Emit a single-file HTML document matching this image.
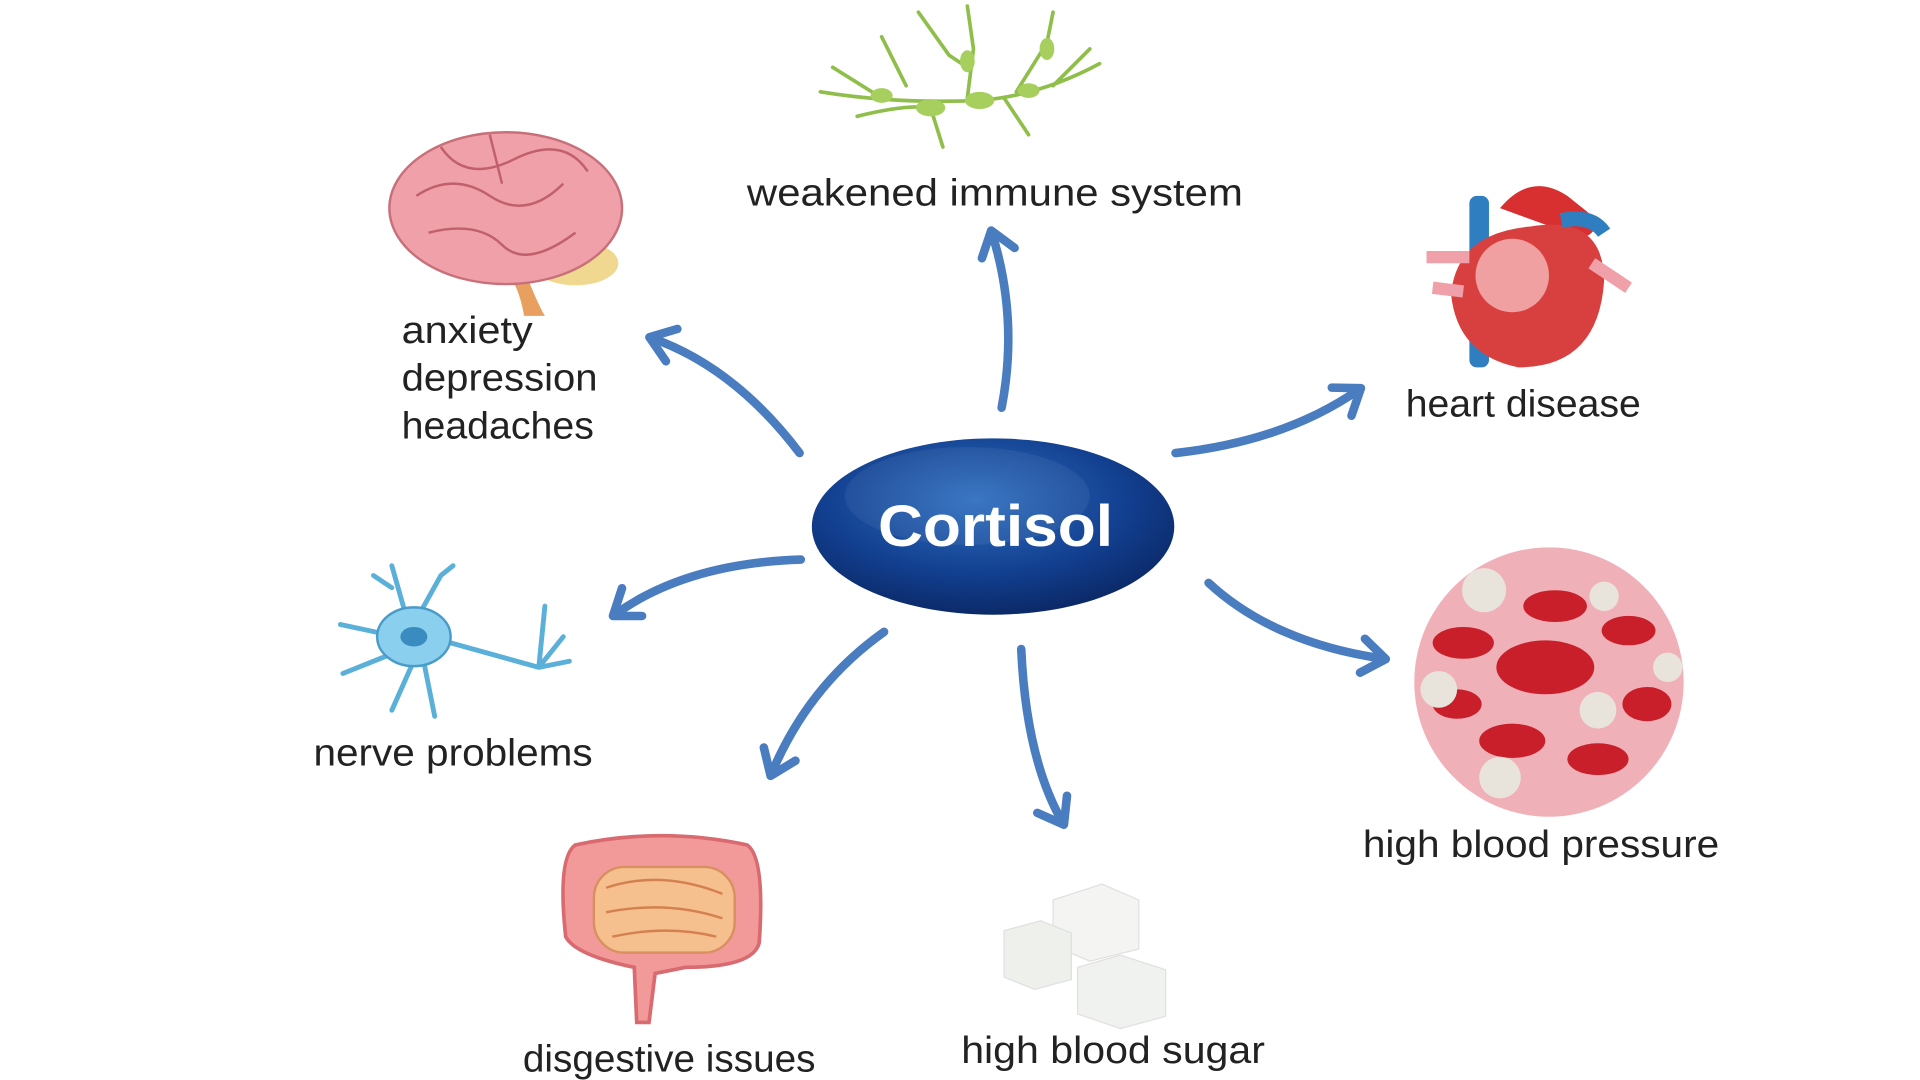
<!DOCTYPE html>
<html><head><meta charset="utf-8"><style>
html,body{margin:0;padding:0;background:#fff;width:1920px;height:1080px;overflow:hidden}
svg{display:block}
text{font-family:"Liberation Sans",sans-serif;fill:#222;font-size:31px}
</style></head><body>
<svg width="1920" height="1080" viewBox="0 0 1568 882" preserveAspectRatio="none" xmlns="http://www.w3.org/2000/svg">
<defs>
<radialGradient id="cg" cx="0.45" cy="0.35" r="0.7">
<stop offset="0" stop-color="#2f6fc0"/><stop offset="0.6" stop-color="#123f8f"/><stop offset="1" stop-color="#0a2560"/>
</radialGradient>
<marker id="ah" viewBox="0 0 20 20" refX="12" refY="10" markerWidth="5" markerHeight="5" orient="auto">
<path d="M2,2 L13,10 L2,18" fill="none" stroke="#4a7cc0" stroke-width="4" stroke-linecap="round" stroke-linejoin="round"/>
</marker>
</defs>
<rect width="1568" height="882" fill="#fff"/>

<g fill="none" stroke="#4a7cc0" stroke-width="7" stroke-linecap="round" marker-end="url(#ah)">
<path d="M818,333 Q832,260 810,190"/>
<path d="M653,370 Q600,300 532,276"/>
<path d="M960,370 Q1050,360 1110,318"/>
<path d="M654,457 Q560,460 502,502"/>
<path d="M722,516 Q660,560 630,632"/>
<path d="M834,530 Q838,620 868,672"/>
<path d="M987,476 Q1040,525 1130,538"/>
</g>

<ellipse cx="811" cy="430" rx="148" ry="72" fill="url(#cg)"/>
<ellipse cx="790" cy="405" rx="100" ry="40" fill="#fff" opacity="0.06"/>
<text x="813" y="446" text-anchor="middle" textLength="192" lengthAdjust="spacingAndGlyphs" style="font-size:48px;font-weight:bold;fill:#fff">Cortisol</text>

<g stroke="#8fbf4a" stroke-width="3" fill="none" stroke-linecap="round">
<path d="M670,75 Q730,85 800,82 Q850,78 898,52"/>
<path d="M700,95 Q740,85 760,88"/><path d="M760,88 L770,120"/><path d="M790,80 L795,40 L790,5"/>
<path d="M750,10 L775,45 L790,55"/><path d="M720,30 L740,70"/><path d="M820,80 L840,110"/>
<path d="M830,75 L855,35 L860,10"/><path d="M860,70 L890,40"/><path d="M680,55 L720,80"/>
</g>
<g fill="#a6cf5e"><ellipse cx="760" cy="88" rx="12" ry="7"/><ellipse cx="800" cy="82" rx="12" ry="7"/><ellipse cx="840" cy="74" rx="9" ry="6"/><ellipse cx="790" cy="50" rx="6" ry="9"/><ellipse cx="855" cy="40" rx="6" ry="9"/><ellipse cx="720" cy="78" rx="9" ry="6"/></g>
<text x="610" y="168" textLength="405" lengthAdjust="spacingAndGlyphs">weakened immune system</text>

<path d="M430,225 Q440,250 445,258 L428,258 Q425,240 418,228 Z" fill="#e8a060"/>
<ellipse cx="470" cy="215" rx="35" ry="18" fill="#f0d890"/>
<ellipse cx="413" cy="170" rx="95" ry="62" fill="#f0a0a8" stroke="#c8707a" stroke-width="2"/>
<g stroke="#c0606c" stroke-width="2" fill="none"><path d="M340,160 Q370,140 400,160 T460,150"/><path d="M360,120 Q380,150 420,130 T480,140"/><path d="M350,190 Q390,180 410,200 T470,190"/><path d="M400,110 L410,150"/></g>
<text x="328" y="280" textLength="107" lengthAdjust="spacingAndGlyphs">anxiety</text>
<text x="328" y="319" textLength="160" lengthAdjust="spacingAndGlyphs">depression</text>
<text x="328" y="358" textLength="157" lengthAdjust="spacingAndGlyphs">headaches</text>

<rect x="1200" y="160" width="16" height="140" fill="#2f7fc0" rx="6"/>
<path d="M1225,170 Q1250,140 1280,160 L1305,180 Q1300,200 1280,190 Z" fill="#d83030"/>
<path d="M1250,185 Q1310,175 1310,230 Q1305,300 1240,300 Q1190,290 1185,240 Q1190,190 1250,185 Z" fill="#d84040"/>
<ellipse cx="1235" cy="225" rx="30" ry="30" fill="#f0a0a0"/>
<path d="M1275,180 Q1300,175 1310,190" stroke="#2f7fc0" stroke-width="12" fill="none"/>
<path d="M1165,210 L1200,210 M1300,215 L1330,235 M1170,235 L1195,238" stroke="#f0a0a8" stroke-width="10"/>
<text x="1148" y="340" textLength="192" lengthAdjust="spacingAndGlyphs">heart disease</text>

<g stroke="#5ab0d8" stroke-width="4" fill="none" stroke-linecap="round">
<path d="M335,515 L320,462 M335,515 L360,470 M325,520 L278,510 M330,530 L280,550 M340,535 L320,580 M345,535 L355,585 M350,520 L440,545 M440,545 L460,520 M440,545 L445,495 M440,545 L465,540 M320,480 L305,470 M360,470 L370,462"/>
</g>
<ellipse cx="338" cy="520" rx="30" ry="24" fill="#8ad0ee" stroke="#4a9cc8" stroke-width="2"/>
<ellipse cx="338" cy="520" rx="11" ry="8" fill="#3a8cc0"/>
<text x="256" y="625" textLength="228" lengthAdjust="spacingAndGlyphs">nerve problems</text>

<circle cx="1265" cy="557" r="110" fill="#f0b0b8"/>
<g fill="#c81f2a"><ellipse cx="1262" cy="545" rx="40" ry="22"/><ellipse cx="1195" cy="525" rx="25" ry="13"/><ellipse cx="1270" cy="495" rx="26" ry="13"/><ellipse cx="1330" cy="515" rx="22" ry="12"/><ellipse cx="1235" cy="605" rx="27" ry="14"/><ellipse cx="1305" cy="620" rx="25" ry="13"/><ellipse cx="1345" cy="575" rx="20" ry="14"/><ellipse cx="1190" cy="575" rx="20" ry="12"/></g>
<g fill="#e8e4dc"><circle cx="1212" cy="482" r="18"/><circle cx="1310" cy="487" r="12"/><circle cx="1175" cy="563" r="15"/><circle cx="1305" cy="580" r="15"/><circle cx="1225" cy="635" r="17"/><circle cx="1362" cy="545" r="12"/></g>
<text x="1113" y="700" textLength="291" lengthAdjust="spacingAndGlyphs">high blood pressure</text>

<path d="M470,690 Q540,675 610,690 Q625,700 620,770 Q615,790 560,790 L535,795 L530,835 L520,835 L518,790 Q470,780 462,765 Q455,700 470,690 Z" fill="#f29a9a" stroke="#d86a70" stroke-width="3"/>
<rect x="485" y="708" width="115" height="70" rx="25" fill="#f6c08e" stroke="#d89060" stroke-width="2"/>
<g stroke="#d48050" stroke-width="2" fill="none"><path d="M495,725 Q540,710 590,730"/><path d="M495,745 Q545,735 590,750"/><path d="M500,765 Q545,755 585,765"/></g>
<text x="427" y="875" textLength="239" lengthAdjust="spacingAndGlyphs">disgestive issues</text>

<g stroke="#e0e0e0" stroke-width="1">
<path d="M860,735 L900,722 L930,735 L930,775 L890,785 L860,772 Z" fill="#f4f5f3"/>
<path d="M820,760 L850,752 L875,762 L875,800 L845,808 L820,798 Z" fill="#eef0ec"/>
<path d="M880,790 L915,780 L952,792 L952,830 L915,840 L880,828 Z" fill="#f0f2ef"/>
</g>
<text x="785" y="868" textLength="248" lengthAdjust="spacingAndGlyphs">high blood sugar</text>
</svg>
</body></html>
